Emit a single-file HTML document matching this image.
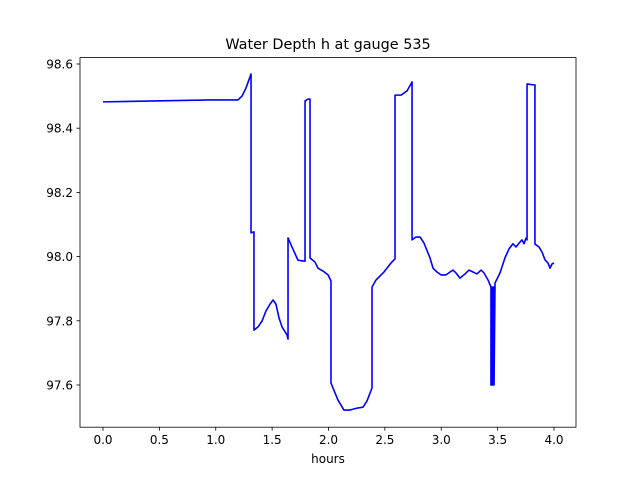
<!DOCTYPE html>
<html><head><meta charset="utf-8"><style>
body{margin:0;background:#fff;}
svg{display:block;font-family:"DejaVu Sans","Liberation Sans",sans-serif;}
</style></head><body>
<svg id="chart" width="640" height="480">
<rect x="0" y="0" width="640" height="480" fill="#fff"/>
<text x="328" y="49" text-anchor="middle" font-size="14.4">Water Depth h at gauge 535</text>
<text x="328" y="463" text-anchor="middle" font-size="12">hours</text>
<g id="plot"></g>
</svg>
<script>
const hours = [0,0.949,1.197,1.233,1.268,1.313,1.313,1.339,1.339,1.375,1.410,1.446,1.481,1.508,1.534,1.561,1.588,1.632,1.641,1.641,1.676,1.729,1.774,1.792,1.792,1.818,1.836,1.836,1.880,1.907,1.951,1.996,2.022,2.022,2.084,2.137,2.191,2.253,2.306,2.341,2.386,2.386,2.421,2.492,2.554,2.590,2.590,2.643,2.696,2.741,2.741,2.776,2.812,2.847,2.900,2.927,2.962,2.998,3.042,3.078,3.104,3.131,3.166,3.211,3.246,3.282,3.317,3.353,3.379,3.415,3.441,3.441,3.450,3.450,3.459,3.459,3.468,3.468,3.477,3.521,3.565,3.601,3.636,3.663,3.690,3.716,3.734,3.752,3.761,3.761,3.814,3.831,3.831,3.867,3.894,3.920,3.947,3.965,3.982,4.0];
const depth = [98.482,98.488,98.488,98.500,98.525,98.569,98.074,98.077,97.771,97.781,97.799,97.831,97.852,97.865,97.852,97.809,97.781,97.756,97.743,98.058,98.030,97.989,97.986,97.986,98.485,98.491,98.491,97.996,97.983,97.964,97.955,97.943,97.924,97.606,97.553,97.522,97.522,97.528,97.531,97.550,97.591,97.905,97.927,97.952,97.980,97.993,98.503,98.503,98.516,98.544,98.052,98.061,98.061,98.042,97.996,97.964,97.952,97.943,97.943,97.952,97.958,97.949,97.933,97.946,97.958,97.952,97.946,97.958,97.949,97.927,97.905,97.600,97.905,97.600,97.905,97.600,97.905,97.600,97.918,97.949,97.996,98.024,98.040,98.030,98.042,98.052,98.040,98.058,98.052,98.538,98.535,98.535,98.039,98.030,98.014,97.990,97.980,97.964,97.977,97.980];
const xTicks = [0,0.5,1,1.5,2,2.5,3,3.5,4];
const xTickLabels = ["0.0","0.5","1.0","1.5","2.0","2.5","3.0","3.5","4.0"];
const yTicks = [97.6,97.8,98.0,98.2,98.4,98.6];
const yTickLabels = ["97.6","97.8","98.0","98.2","98.4","98.6"];

const L=80,R=576,T=57.6,B=427.2;
const xs=v=>103+(v-0)*112.75;
const ys=v=>64+(98.6-v)*321;
const NS="http://www.w3.org/2000/svg";
const g=document.getElementById('plot');
function mk(tag,attrs){const e=document.createElementNS(NS,tag);for(const k in attrs)e.setAttribute(k,attrs[k]);g.appendChild(e);return e;}

const line=mk('polyline',{points:hours.map((h,i)=>xs(h)+','+ys(depth[i])).join(' '),fill:'none',stroke:'#0000ff','stroke-width':1.6,'stroke-linejoin':'round'});



xTicks.forEach((v,i)=>{
  const t=mk('line',{x1:xs(v),x2:xs(v),y1:B,y2:B+3.5,stroke:'#000','stroke-width':0.8});
  
  
  const l=mk('text',{x:xs(v),y:B+17,'text-anchor':'middle','font-size':12});
  l.textContent=xTickLabels[i];
  
  
});
yTicks.forEach((v,i)=>{
  const t=mk('line',{x1:L-3.5,x2:L,y1:ys(v),y2:ys(v),stroke:'#000','stroke-width':0.8});
  
  
  const l=mk('text',{x:L-7,y:ys(v)+4.5,'text-anchor':'end','font-size':12});
  l.textContent=yTickLabels[i];
  
  
});
const frame=mk('rect',{x:L,y:T,width:R-L,height:B-T,fill:'none',stroke:'#000','stroke-width':0.8});


</script>
</body></html>
